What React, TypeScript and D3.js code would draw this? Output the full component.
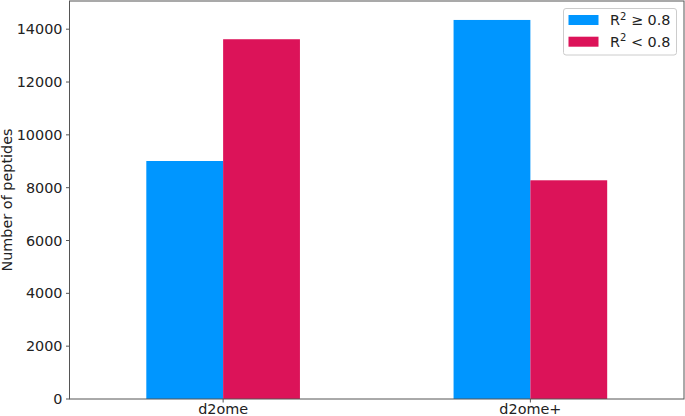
import React from "react";
import * as d3 from "d3";

const categories = ["d2ome", "d2ome+"];
const seriesNames = ["high", "low"];
const highR2 = [9010, 14350];
const lowR2 = [13620, 8280];
const yTicks = [0, 2000, 4000, 6000, 8000, 10000, 12000, 14000];
const colors = ["#0096ff", "#dc1359"];

const W = 685;
const H = 416;
const left = 69.5;
const right = 684;
const top = 1;
const bottom = 399;
const font = "'DejaVu Sans', sans-serif";
const fs = 14.4;

const App = () => {
  const values = [highR2, lowR2];
  const ymax = d3.max([...highR2, ...lowR2]) * 1.05;

  const x = d3.scaleBand().domain(categories).range([left, right])
    .paddingInner(0.5).paddingOuter(0.25);
  const xs = d3.scaleBand().domain(seriesNames).range([0, x.bandwidth()]);
  const y = d3.scaleLinear().domain([0, ymax]).range([bottom, top]);

  return (
    <svg width={W} height={H} style={{ position: "absolute", left: 0, top: 0 }}
      fontFamily={font} fill="#222">
      <rect width={W} height={H} fill="#fff" />
      {categories.map((c, i) =>
        seriesNames.map((s, j) => (
          <rect key={c + s} x={x(c) + xs(s)} width={xs.bandwidth()}
            y={y(values[j][i])} height={y(0) - y(values[j][i])}
            fill={colors[j]} />
        ))
      )}
      {/* spines */}
      <rect x={left} y={top} width={right - left} height={bottom - top}
        fill="none" stroke="#555" strokeWidth={1} />
      {yTicks.map((t) => (
        <g key={t} transform={`translate(0,${y(t)})`}>
          <line x1={left - 3.5} x2={left} stroke="#555" />
          <text x={left - 7} dy="0.35em" textAnchor="end" fontSize={fs}>{t}</text>
        </g>
      ))}
      {categories.map((c) => (
        <g key={c} transform={`translate(${x(c) + x.bandwidth() / 2},0)`}>
          <line y1={bottom} y2={bottom + 3.5} stroke="#555" />
          <text y={414} textAnchor="middle" fontSize={fs}>{c}</text>
        </g>
      ))}
      <text transform={`translate(12,${(top + bottom) / 2}) rotate(-90)`}
        textAnchor="middle" fontSize={fs}>Number of peptides</text>
      {/* legend */}
      <rect x={563.5} y={8.5} width={113} height={46.5} rx={2.5}
        fill="#fff" fillOpacity={0.8} stroke="#ccc" />
      {["\u2265 0.8", "< 0.8"].map((lbl, i) => (
        <g key={lbl} transform={`translate(0,${15 + i * 21.7})`}>
          <rect x={568.5} width={30} height={10} fill={colors[i]} />
          <text x={610} y={10} fontSize={fs}>
            R<tspan fontSize={10} dy={-5.5}>2</tspan>
            <tspan dy={5.5}>{" " + lbl}</tspan>
          </text>
        </g>
      ))}
    </svg>
  );
};

export default App;
